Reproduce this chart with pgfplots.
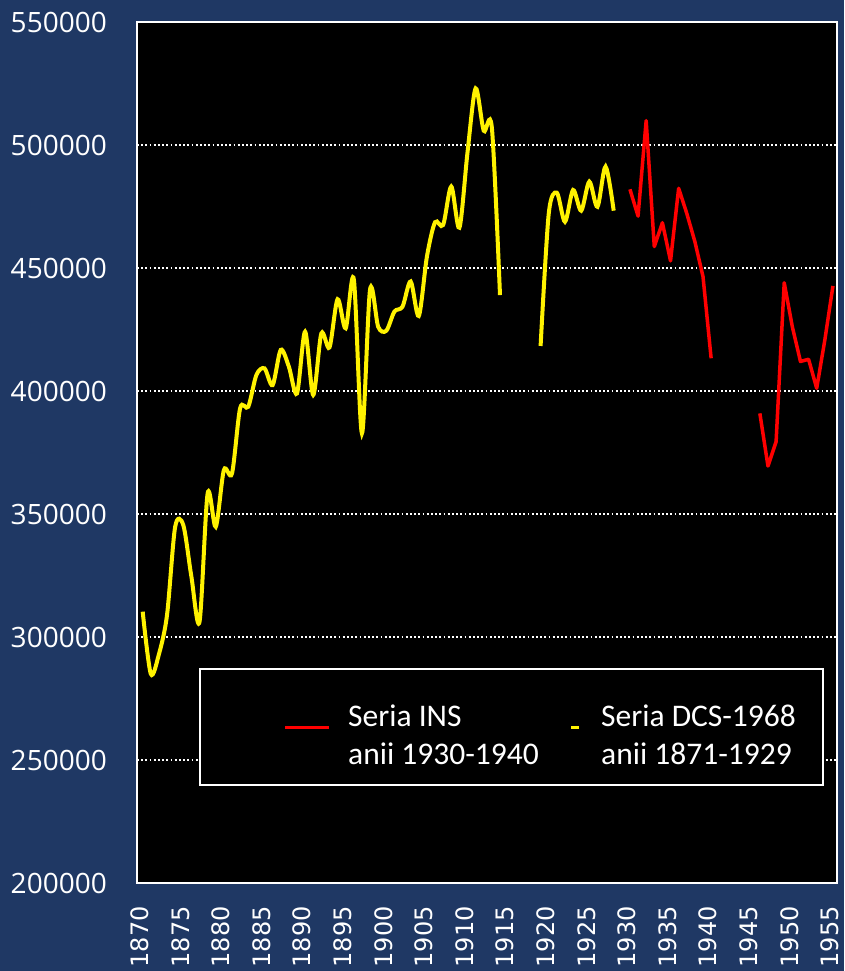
\documentclass[border=0pt]{standalone}
\usepackage{pgfplots}
\pgfplotsset{compat=1.18}
\usepackage{fontspec}
\setmainfont{Carlito}
\newfontfamily\ytickfont{Open Sans}
\newfontfamily\xtickfont{DejaVu Sans}
\definecolor{navy}{HTML}{1F3864}

\pgfplotstableread{
year pop
1870 310300
1871 285000
1872 293000
1873 309000
1874 344800
1875 345500
1876 324500
1877 306200
1878 358400
1879 344800
1880 367900
1881 366500
1882 393000
1883 393600
1884 406500
1885 409200
1886 402400
1887 416700
1888 409900
1889 399000
1890 424100
1891 398400
1892 423400
1893 417700
1894 437300
1895 425500
1896 445400
1897 382800
1898 441300
1899 426100
1900 424500
1901 432300
1902 434300
1903 444500
1904 430500
1905 454600
1906 468600
1907 467500
1908 483100
1909 466400
1910 497000
1911 523000
1912 505800
1913 507000
1914 439000
}\dcsA

\pgfplotstableread{
year pop
1919 418300
1920 472000
1921 480600
1922 468800
1923 481700
1924 473300
1925 485100
1926 474900
1927 491200
1928 473300
}\dcsB

\pgfplotstableread{
year pop
1930 482000
1931 471100
1932 509900
1933 458700
1934 468400
1935 452900
1936 482400
1937 472200
1938 460700
1939 446500
1940 413300
1941 nan
1946 390900
1947 369500
1948 379400
1949 444000
1950 426100
1951 412000
1952 412900
1953 401100
1954 420700
1955 442700
}\ins

\begin{document}
\begin{tikzpicture}
  \fill[navy, use as bounding box] (0,0) rectangle (844pt,971pt);
  \begin{axis}[
    at={(137pt,88pt)}, anchor=south west,
    scale only axis, width=700pt, height=861pt,
    xmin=1869.3, xmax=1955.5,
    ymin=200000, ymax=550000,
    xtick={1870,1875,...,1955},
    ytick={200000,250000,...,550000},
    major tick length=0pt,
    scaled y ticks=false,
    /pgf/number format/.cd, fixed, 1000 sep={}, assume math mode=true,
    /pgfplots/.cd,
    axis background/.style={fill=black},
    axis line style={white, line width=2pt},
    ymajorgrids=true,
    major grid style={white, line width=1.8pt, dash pattern=on 1.8pt off 2.4pt},
    xticklabel style={font=\xtickfont\fontsize{24}{24}\selectfont, text=white, inner sep=0pt, xshift=-3pt, rotate=90, anchor=east},
    xticklabel shift=23pt,
    yticklabel style={font=\ytickfont\fontsize{28}{28}\selectfont, text=white, inner sep=0pt, anchor=east},
    yticklabel shift=30pt,
    unbounded coords=jump,
  ]
    \addplot[yellow, line width=4pt, smooth, tension=0.5] table[x=year, y=pop] {\dcsA};
    \addplot[yellow, line width=4pt, smooth, tension=0.5] table[x=year, y=pop] {\dcsB};
    \addplot[red, line width=3.5pt, line join=round] table[x=year, y=pop] {\ins};
  \end{axis}
  % legend
  \draw[white, line width=2pt, fill=black] (200pt,186pt) rectangle (823pt,302pt);
  \draw[red, line width=3.5pt] (285pt,243.5pt) -- (329pt,243.5pt);
  \draw[yellow, line width=3.5pt] (571pt,243.5pt) -- (579pt,243.5pt);
  \begin{scope}[every node/.style={text=white, inner sep=0pt, anchor=base west, font=\fontsize{31.5}{37}\selectfont}]
    \node at (348pt,244pt) {Seria INS};
    \node at (348pt,206pt) {anii 1930-1940};
    \node at (601pt,244pt) {Seria DCS-1968};
    \node at (601pt,206pt) {anii 1871-1929};
  \end{scope}
\end{tikzpicture}
\end{document}
